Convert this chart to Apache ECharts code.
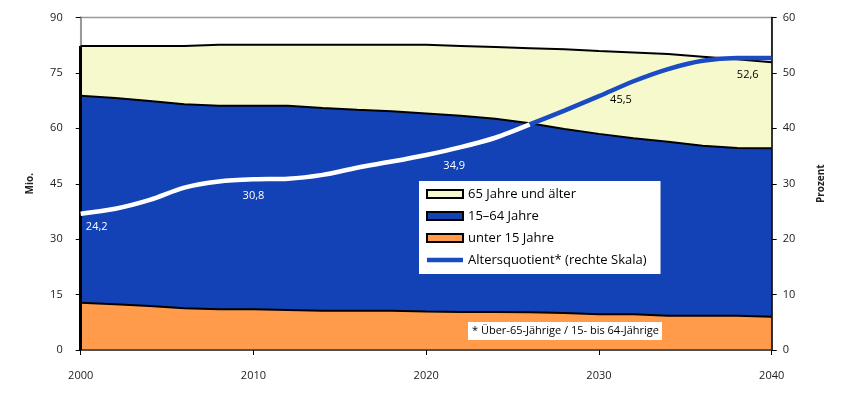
<!DOCTYPE html>
<html><head><meta charset="utf-8">
<script src="https://cdn.jsdelivr.net/npm/echarts@6/dist/echarts.min.js"></script>
<style>html,body{margin:0;padding:0;background:#fff}#c{width:849px;height:405px}</style>
</head><body><div id="c"></div>
<script>
// ---- data (Mio. / Prozent) ----
const years    = ['2000','2002','2004','2006','2008','2010','2012','2014','2016','2018','2020','2022','2024','2026','2028','2030','2032','2034','2036','2038','2040'];
const unter15  = [12.8,12.4,11.9,11.3,11.0,11.0,10.8,10.6,10.6,10.6,10.4,10.3,10.3,10.2,10.0,9.7,9.7,9.3,9.3,9.3,9.0];
const mittel   = [56.0,55.8,55.5,55.2,55.1,55.1,55.3,54.9,54.4,54.0,53.6,53.1,52.3,51.2,49.8,48.8,47.6,47.1,46.0,45.4,45.6];
const ab65     = [13.5,14.1,14.9,15.8,16.5,16.5,16.5,17.1,17.6,18.0,18.6,18.9,19.4,20.3,21.6,22.4,23.2,23.7,24.1,24.0,23.3];
const quotient = [24.6,25.5,27.1,29.3,30.4,30.8,30.9,31.6,32.9,34.0,35.2,36.6,38.3,40.7,43.2,45.8,48.5,50.7,52.2,52.7,52.7];
const labelYears = ['2000','2010','2020','2030','2040'];
const labelTexts = ['24,2','30,8','34,9','45,5','52,6'];
const splitYear = '2026'; // line drawn white over the blue area, blue over the yellow area
const seriesNames = ['unter 15 Jahre','15\u201364 Jahre','65 Jahre und \u00e4lter','Altersquotient* (rechte Skala)'];
const noteText = '* \u00dcber-65-J\u00e4hrige / 15- bis 64-J\u00e4hrige';

// ---- styles ----
const FONT = 'Open Sans';
const ORANGE = '#FF9B4A', BLUE = '#1242B6', YELLOW = '#F5F9CC', LINEBLUE = '#1A4BC2';
const labelOffsets = [[16,13],[0,17],[28,11],[22,4],[-24,17]];
const labelColors = ['#fff','#fff','#fff','#000','#000'];

const splitIdx = years.indexOf(splitYear);
const whiteData = quotient.map((v,i)=> i<=splitIdx ? v : null);
const blueData  = quotient.map((v,i)=> i>=splitIdx ? v : null);
const firstTotal = unter15[0] + mittel[0] + ab65[0];

function marks(filterFn){
  const d=[];
  labelYears.forEach((y,k)=>{
    const i = years.indexOf(y);
    if(!filterFn(i)) return;
    d.push({coord:[i,quotient[i]], symbol:'circle', symbolSize:0,
      label:{show:true, formatter:labelTexts[k], offset:labelOffsets[k], color:labelColors[k],
             fontSize:11, fontFamily:FONT}});
  });
  return {data:d, silent:true};
}

const areaSeries = (name, arr, color) => ({
  name, type:'line', stack:'pop', data:arr, symbol:'none', yAxisIndex:0,
  lineStyle:{color:'#000', width:2}, areaStyle:{color, opacity:1}, itemStyle:{color},
  emphasis:{disabled:true}
});

const chart = echarts.init(document.getElementById('c'), null, {renderer:'canvas'});
chart.setOption({
  animation:false,
  textStyle:{fontFamily:FONT},
  grid:{left:80.7, right:77.3, top:17.5, bottom:55, show:true, borderColor:'#999', borderWidth:1.5, backgroundColor:'transparent'},
  xAxis:{type:'category', data:years, boundaryGap:false, z:4,
    axisLine:{lineStyle:{color:'#333', width:1.5}},
    axisTick:{length:5, interval:4, lineStyle:{color:'#000'}},
    axisLabel:{margin:20, interval:4, fontSize:11, color:'#222', fontFamily:FONT},
    splitLine:{show:false}},
  yAxis:[
    {type:'value', min:0, max:90, interval:15, position:'left',
     name:'Mio.', nameLocation:'middle', nameRotate:90, nameGap:46,
     nameTextStyle:{fontSize:10, fontWeight:'bold', color:'#222', fontFamily:FONT},
     axisLine:{show:true, lineStyle:{color:'#999', width:2}},
     axisTick:{show:true, length:5, lineStyle:{color:'#000'}},
     axisLabel:{margin:18, fontSize:11, color:'#222', fontFamily:FONT},
     splitLine:{show:false}},
    {type:'value', min:0, max:60, interval:10, position:'right', z:4,
     name:'Prozent', nameLocation:'middle', nameRotate:90, nameGap:44,
     nameTextStyle:{fontSize:10, fontWeight:'bold', color:'#222', fontFamily:FONT},
     axisLine:{show:true, lineStyle:{color:'#000', width:1.5}},
     axisTick:{show:true, length:5, lineStyle:{color:'#000'}},
     axisLabel:{margin:11, fontSize:11, color:'#222', fontFamily:FONT},
     splitLine:{show:false}}
  ],
  legend:{orient:'vertical', left:419, top:181, backgroundColor:'#fff',
    padding:[5,14,6,7], itemWidth:36, itemHeight:8, itemGap:6, selectedMode:false,
    textStyle:{fontSize:13, color:'#000', fontFamily:FONT, lineHeight:16},
    data:[
      {name:seriesNames[2], icon:'rect', itemStyle:{color:YELLOW, borderColor:'#000', borderWidth:2}},
      {name:seriesNames[1], icon:'rect', itemStyle:{color:BLUE, borderColor:'#000', borderWidth:2}},
      {name:seriesNames[0], icon:'rect', itemStyle:{color:ORANGE, borderColor:'#000', borderWidth:2}},
      {name:seriesNames[3], icon:'path://M0,0L36,0L36,4.5L0,4.5Z', itemStyle:{color:LINEBLUE, borderWidth:0}}
    ]},
  graphic:[{type:'group', left:468, top:322, z:100, children:[
    {type:'rect', z:100, shape:{x:0,y:0,width:194,height:18}, style:{fill:'#fff'}},
    {type:'text', z:101, x:4, y:9, style:{text:noteText, fontSize:11, fontFamily:FONT, fill:'#000', verticalAlign:'middle'}}
  ]}],
  series:[
    areaSeries(seriesNames[0], unter15, ORANGE),
    areaSeries(seriesNames[1], mittel, BLUE),
    Object.assign(areaSeries(seriesNames[2], ab65, YELLOW), {
      markLine:{silent:true, symbol:['none','none'], label:{show:false},
        lineStyle:{color:'#000', width:3, type:'solid'},
        data:[[{coord:[0,0]},{coord:[0,firstTotal]}]]}
    }),
    {name:'_white', type:'line', yAxisIndex:1, data:whiteData, symbol:'none', smooth:0.3, z:5,
     lineStyle:{color:'#fff', width:4.5}, itemStyle:{color:'#fff'}, markPoint:marks(i=>i<splitIdx)},
    {name:seriesNames[3], type:'line', yAxisIndex:1, data:blueData, symbol:'none', smooth:0.3, z:5,
     lineStyle:{color:LINEBLUE, width:4.5}, itemStyle:{color:LINEBLUE}, markPoint:marks(i=>i>=splitIdx)}
  ]
});
</script></body></html>
